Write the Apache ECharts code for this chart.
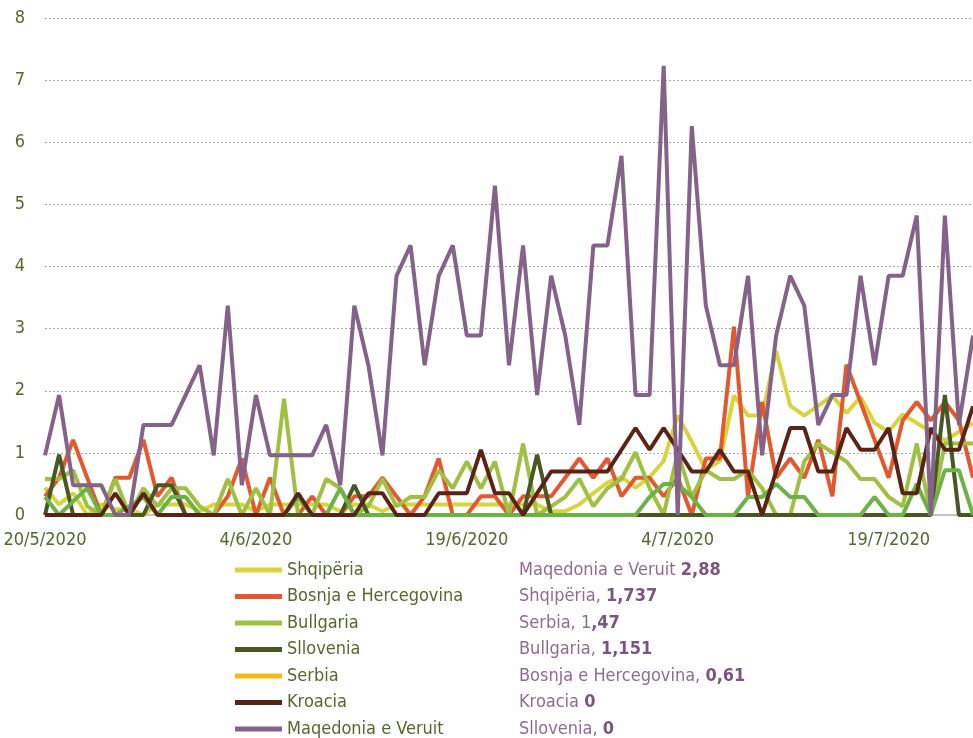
<!DOCTYPE html>
<html>
<head>
<meta charset="utf-8">
<script src="https://cdn.jsdelivr.net/npm/echarts@6/dist/echarts.min.js"></script>
<style>
  html, body { margin: 0; padding: 0; background: #fff; }
  #chart { width: 973px; height: 738px; }
</style>
</head>
<body>
<div id="chart"></div>
<script>
const dates = [
  '20/5/2020','21/5/2020','22/5/2020','23/5/2020','24/5/2020','25/5/2020','26/5/2020','27/5/2020','28/5/2020','29/5/2020','30/5/2020','31/5/2020',
  '1/6/2020','2/6/2020','3/6/2020','4/6/2020','5/6/2020','6/6/2020','7/6/2020','8/6/2020','9/6/2020','10/6/2020',
  '11/6/2020','12/6/2020','13/6/2020','14/6/2020','15/6/2020','16/6/2020','17/6/2020','18/6/2020','19/6/2020','20/6/2020',
  '21/6/2020','22/6/2020','23/6/2020','24/6/2020','25/6/2020','26/6/2020','27/6/2020','28/6/2020','29/6/2020','30/6/2020',
  '1/7/2020','2/7/2020','3/7/2020','4/7/2020','5/7/2020','6/7/2020','7/7/2020','8/7/2020','9/7/2020','10/7/2020',
  '11/7/2020','12/7/2020','13/7/2020','14/7/2020','15/7/2020','16/7/2020','17/7/2020','18/7/2020','19/7/2020','20/7/2020',
  '21/7/2020','22/7/2020','23/7/2020','24/7/2020','25/7/2020'
];

const shqiperia = [
  0.44,0.17,0.35,0,0.17,0.09,0.1,0,0.17,0.17,
  0.17,0.06,0.17,0.17,0.17,0.06,0.17,0.17,0.17,0.17,
  0.17,0.06,0.17,0.17,0.06,0.17,0.17,0.17,0.17,0.17,
  0.17,0.17,0.17,0.17,0.17,0.17,0.06,0.06,0.17,0.35,
  0.52,0.61,0.44,0.61,0.87,1.6,1.18,0.73,0.87,1.92,
  1.6,1.6,2.64,1.76,1.6,1.76,1.92,1.64,1.9,1.48,
  1.34,1.62,1.48,1.34,1.2,1.34,1.48
];
const bosnja = [
  0.3,0.6,1.21,0.6,0,0.6,0.6,1.21,0.3,0.6,
  0,0,0,0.3,0.91,0,0.6,0,0,0.3,
  0,0,0.3,0.3,0.6,0.3,0,0.3,0.91,0,
  0,0.3,0.3,0,0.3,0.3,0.3,0.6,0.91,0.6,
  0.91,0.3,0.6,0.6,0.3,0.6,0,0.91,0.91,3.03,
  0.3,1.82,0.6,0.91,0.6,1.21,0.3,2.42,1.82,1.21,
  0.6,1.52,1.82,1.52,1.82,1.52,0.6
];
const bullgaria = [
  0.58,0.58,0.72,0.14,0,0.58,0,0.43,0.14,0.43,
  0.43,0.14,0,0.58,0,0.43,0,1.87,0,0,
  0.58,0.43,0,0.14,0.58,0.14,0.29,0.29,0.72,0.43,
  0.86,0.43,0.86,0,1.15,0,0.14,0.29,0.58,0.14,
  0.43,0.58,1.01,0.43,0,1.01,0.29,0.72,0.58,0.58,
  0.72,0.43,0,0,0.86,1.15,1.01,0.86,0.58,0.58,
  0.29,0.14,1.15,0,1.15,1.15,1.15
];
const sllovenia = [
  0,0.97,0,0,0,0,0,0,0.48,0.48,
  0,0,0,0,0,0,0,0,0,0,
  0,0,0.48,0,0,0,0,0,0,0,
  0,0,0,0,0,0.97,0,0,0,0,
  0,0,0,0,0,0,0,0,0,0,
  0,0,0,0,0,0,0,0,0,0,
  0,0,0,0,1.93,0,0
];
const serbia = [
  0.29,0,0.22,0.43,0,0,0.14,0.29,0,0.29,
  0.29,0,0,0,0,0,0,0,0.29,0,
  0,0.43,0,0,0,0,0,0,0,0,
  0,0,0,0,0,0,0,0,0,0,
  0,0,0,0.29,0.5,0.5,0.29,0,0,0,
  0.29,0.29,0.5,0.29,0.29,0,0,0,0,0.29,
  0,0,0.5,0,0.72,0.72,0
];
const kroacia = [
  0,0,0,0,0,0.35,0,0.35,0,0,
  0,0,0,0,0,0,0,0,0.35,0,
  0,0,0,0.35,0.35,0,0,0,0.35,0.35,
  0.35,1.05,0.35,0.35,0,0.35,0.7,0.7,0.7,0.7,
  0.7,1.05,1.4,1.05,1.4,1.05,0.7,0.7,1.05,0.7,
  0.7,0,0.7,1.4,1.4,0.7,0.7,1.4,1.05,1.05,
  1.4,0.35,0.35,1.4,1.05,1.05,1.75
];
const maqedonia = [
  0.96,1.93,0.48,0.48,0.48,0,0,1.45,1.45,1.45,
  1.93,2.41,0.96,3.37,0.48,1.93,0.96,0.96,0.96,0.96,
  1.45,0.48,3.37,2.41,0.96,3.85,4.34,2.41,3.85,4.34,
  2.89,2.89,5.3,2.41,4.34,1.93,3.85,2.89,1.45,4.34,
  4.34,5.78,1.93,1.93,7.23,0,6.26,3.37,2.41,2.41,
  3.85,0.96,2.89,3.85,3.37,1.45,1.93,1.93,3.85,2.41,
  3.85,3.85,4.82,0,4.82,1.45,2.89
];

// averages shown beside the legend
const averages = [
  ['Maqedonia e Veruit ', '2,88'],
  ['Shqipëria, ', '1,737'],
  ['Serbia, 1', ',47'],
  ['Bullgaria, ', '1,151'],
  ['Bosnja e Hercegovina, ', '0,61'],
  ['Kroacia ', '0'],
  ['Sllovenia, ', '0']
];

const font = '"Liberation Sans Narrow", "DejaVu Sans Condensed", sans-serif';
const olive = '#55672b';

const seriesList = [
  { name: 'Shqipëria', data: shqiperia, color: '#d8d53c' },
  { name: 'Bosnja e Hercegovina', data: bosnja, color: '#e4582c' },
  { name: 'Bullgaria', data: bullgaria, color: '#9fc040' },
  { name: 'Sllovenia', data: sllovenia, color: '#485825' },
  { name: 'Serbia', data: serbia, color: '#6ab345', legendColor: '#f6bb12' },
  { name: 'Kroacia', data: kroacia, color: '#5a2316' },
  { name: 'Maqedonia e Veruit', data: maqedonia, color: '#856289' }
];

const chart = echarts.init(document.getElementById('chart'));

chart.setOption({
  animation: false,
  grid: { left: 45, right: 0, top: 18, bottom: 223 },
  legend: {
    orient: 'vertical',
    left: 235,
    top: 560,
    height: 300,
    padding: 0,
    icon: 'rect',
    itemWidth: 47,
    itemHeight: 5,
    itemGap: 6.5,
    textStyle: { color: olive, fontSize: 18, fontFamily: font, lineHeight: 20 },
    data: seriesList.map(s => ({
      name: s.name,
      itemStyle: { color: s.legendColor || s.color }
    }))
  },
  xAxis: {
    type: 'category',
    boundaryGap: false,
    data: dates,
    axisLine: { lineStyle: { color: '#c4c4c4', width: 2 } },
    axisTick: { show: false },
    axisLabel: {
      interval: 14,
      color: olive,
      fontSize: 18,
      fontFamily: font,
      margin: 16
    }
  },
  yAxis: {
    type: 'value',
    min: 0,
    max: 8,
    interval: 1,
    axisLine: { show: false },
    axisTick: { show: false },
    axisLabel: { color: olive, fontSize: 18, fontFamily: font, margin: 20 },
    splitLine: { lineStyle: { color: '#a8a8a8', type: [2, 2], width: 1 } }
  },
  graphic: averages.map((a, i) => ({
    type: 'text',
    left: 519,
    top: 561 + i * 26.5,
    style: {
      text: '{n|' + a[0] + '}{b|' + a[1] + '}',
      rich: {
        n: { fontSize: 18, fontFamily: font, fill: '#8d6b92', lineHeight: 20 },
        b: { fontSize: 18, fontFamily: font, fill: '#7a5580', fontWeight: 'bold', lineHeight: 20 }
      }
    }
  })),
  series: seriesList.map(s => ({
    name: s.name,
    type: 'line',
    data: s.data,
    symbol: 'none',
    color: s.color,
    lineStyle: { color: s.color, width: 4 }
  }))
});
</script>
</body>
</html>
